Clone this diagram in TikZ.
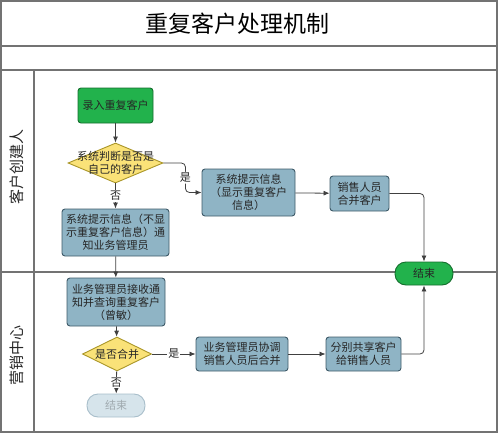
\documentclass[tikz,border=0pt]{standalone}
\usepackage{fontspec}
\newfontfamily\cjk{Noto Sans CJK SC}
\usetikzlibrary{shapes.geometric,arrows.meta}
\definecolor{boxfill}{RGB}{143,180,197}
\definecolor{boxdraw}{RGB}{62,90,104}
\definecolor{greenfill}{RGB}{34,178,76}
\definecolor{greendraw}{RGB}{20,110,45}
\definecolor{yellowfill}{RGB}{250,226,120}
\definecolor{yellowdraw}{RGB}{170,150,40}
\definecolor{lanegray}{RGB}{115,115,115}
\definecolor{flowgray}{RGB}{64,64,64}
\definecolor{fadefill}{RGB}{214,228,235}
\definecolor{fadedraw}{RGB}{168,190,202}
\definecolor{fadetext}{RGB}{160,170,175}

\begin{document}
\begin{tikzpicture}[x=1pt,y=-1pt,
  every node/.style={font=\cjk\fontsize{11}{13}\selectfont, align=center, text=black!85},
  proc/.style={draw=boxdraw, fill=boxfill, rounded corners=3pt, line width=0.9pt, inner sep=0pt},
  startbox/.style={proc, draw=greendraw, fill=greenfill},
  decision/.style={diamond, draw=yellowdraw, fill=yellowfill, line width=0.9pt, inner sep=0pt},
  terminal/.style={draw=greendraw, fill=greenfill, rounded corners=11pt, line width=0.9pt,
    minimum width=58pt, minimum height=23pt, inner sep=0pt},
  faded/.style={terminal, draw=fadedraw, fill=fadefill, text=fadetext},
  lane/.style={draw=lanegray, line width=1.2pt},
  lanelbl/.style={font=\cjk\fontsize{15}{18}\selectfont, rotate=90},
  flow/.style={draw=flowgray, line width=0.8pt, -{Latex[length=6pt,width=5pt]}},
  lbl/.style={fill=white, inner sep=1pt}
  ]
  \useasboundingbox (0,0) rectangle (500,436);

  % swimlane frame
  \draw[lane] (1,1) rectangle (497,432);
  \draw[lane] (1,46) -- (497,46);
  \draw[lane] (1,70) -- (497,70);
  \draw[lane] (34,70) -- (34,432);
  \draw[lane] (1,272) -- (497,272);

  \node[font=\cjk\fontsize{23}{26}\selectfont, text=black] (title) at (237,24) {重复客户处理机制};
  \node[lanelbl] (lane1) at (17,167) {客户创建人};
  \node[lanelbl] (lane2) at (17,355) {营销中心};

  % nodes
  \node[startbox, minimum width=75pt, minimum height=35pt] (start) at (115.5,105.5) {录入重复客户};
  \node[decision, minimum width=95pt, minimum height=40pt,
    label={center:{系统判断是否是\\自己的客户}}] (check) at (115.5,163) {};
  \node[proc, minimum width=93pt, minimum height=47pt] (showinfo) at (248.5,192.5)
    {系统提示信息\\（显示重复客户\\信息）};
  \node[proc, minimum width=59pt, minimum height=35pt] (salesmerge) at (359.5,193.5)
    {销售人员\\合并客户};
  \node[proc, minimum width=107pt, minimum height=47pt] (notify) at (115.5,232.5)
    {系统提示信息（不显\\示重复客户信息）通\\知业务管理员};
  \node[terminal] (end) at (424,273.5) {结束};
  \node[proc, minimum width=98pt, minimum height=48pt] (receive) at (116,302)
    {业务管理员接收通\\知并查询重复客户\\（曾敏）};
  \node[decision, minimum width=69pt, minimum height=34pt,
    label={center:{是否合并}}] (merge) at (117,354) {};
  \node[proc, minimum width=92pt, minimum height=34pt] (coord) at (242,354)
    {业务管理员协调\\销售人员后合并};
  \node[proc, minimum width=75pt, minimum height=34pt] (share) at (363.5,354)
    {分别共享客户\\给销售人员};
  \node[faded] (end2) at (116,405.5) {结束};

  % connectors
  \draw[flow] (start) -- (check);
  \draw[flow, rounded corners=4pt] (check.east) -- ++(22,0) |- node[lbl, pos=0.25] {是} (showinfo.west);
  \draw[flow] (check) -- node[lbl] {否} (notify);
  \draw[flow] (showinfo) -- (salesmerge);
  \draw[flow, rounded corners=4pt] (salesmerge.east) -| (end.north);
  \draw[flow] (notify) -- (receive);
  \draw[flow] (receive) -- (merge);
  \draw[flow] (merge) -- node[lbl] {是} (coord);
  \draw[flow] (coord) -- (share);
  \draw[flow, rounded corners=4pt] (share.east) -| (end.south);
  \draw[flow] (merge) -- node[lbl] {否} (end2);
\end{tikzpicture}
\end{document}
